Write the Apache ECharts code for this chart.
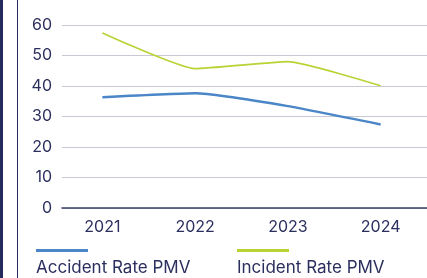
<!DOCTYPE html>
<html style="height: 100%">
<head>
<meta charset="utf-8">
<script type="text/javascript" src="https://cdn.jsdelivr.net/npm/echarts@6/dist/echarts.min.js"></script>
</head>
<body style="height: 100%; margin: 0; background: #fff">
<div id="container" style="width: 427px; height: 278px"></div>
<script type="text/javascript">
var YEARS = ['2021', '2022', '2023', '2024'];
var NAMES = ['Accident Rate PMV', 'Incident Rate PMV'];
var ACCIDENT = [36.3, 37.6, 33.4, 27.4];
var INCIDENT = [57.4, 45.7, 48.0, 40.1];
var COLORS = ['#4a86c8', '#b7d334'];

var NAVY = '#2b2f5e';
var FONT = 'Inter';

var dom = document.getElementById('container');
var myChart = echarts.init(dom, null, {renderer: 'canvas'});

var option = {
    backgroundColor: '#ffffff',
    animation: false,
    textStyle: {fontFamily: FONT},
    grid: [
        {left: 56, right: -21, top: 25, bottom: 70},   // series
        {left: 62, right: -5, top: 25, bottom: 70}     // axes / gridlines
    ],
    xAxis: [{
        gridIndex: 0,
        type: 'category',
        data: YEARS,
        boundaryGap: true,
        axisLine: {show: false},
        axisTick: {show: false},
        axisLabel: {color: NAVY, fontSize: 16, fontFamily: FONT, margin: 11}
    }, {
        gridIndex: 1,
        type: 'value',
        min: 0, max: 1,
        axisLine: {show: true, lineStyle: {color: '#3a3e68', width: 1.5}},
        axisTick: {show: false},
        axisLabel: {show: false},
        splitLine: {show: false}
    }],
    yAxis: [{
        gridIndex: 0,
        type: 'value',
        min: 0, max: 60,
        show: false
    }, {
        gridIndex: 1,
        type: 'value',
        min: 0, max: 60, interval: 10,
        axisLine: {show: false},
        axisTick: {show: false},
        axisLabel: {color: NAVY, fontSize: 16, fontFamily: FONT, margin: 10},
        splitLine: {lineStyle: {color: '#c9c9d6', width: 1}}
    }],
    legend: [{
        data: [NAMES[0]],
        left: 36, top: 249, padding: 0,
        icon: 'rect', itemWidth: 52, itemHeight: 3,
        formatter: function () { return ''; },
        selectedMode: false
    }, {
        data: [NAMES[1]],
        left: 237, top: 249, padding: 0,
        icon: 'rect', itemWidth: 52, itemHeight: 3,
        formatter: function () { return ''; },
        selectedMode: false
    }],
    graphic: [
        {type: 'rect', left: 0, top: 0, shape: {width: 3, height: 278}, style: {fill: '#232a5c'}},
        {type: 'rect', left: 17, top: 0, shape: {width: 1, height: 278}, style: {fill: '#232a5c'}},
        {type: 'text', left: 36, top: 259, style: {text: NAMES[0], fill: NAVY, font: '17px Inter'}},
        {type: 'text', left: 237, top: 259, style: {text: NAMES[1], fill: NAVY, font: '17px Inter'}}
    ],
    series: [{
        name: NAMES[0],
        type: 'line',
        xAxisIndex: 0, yAxisIndex: 0,
        data: ACCIDENT,
        smooth: 0.15,
        showSymbol: false,
        color: COLORS[0],
        lineStyle: {width: 2.5, color: COLORS[0]}
    }, {
        name: NAMES[1],
        type: 'line',
        xAxisIndex: 0, yAxisIndex: 0,
        data: INCIDENT,
        smooth: 0.15,
        showSymbol: false,
        color: COLORS[1],
        lineStyle: {width: 1.6, color: COLORS[1]}
    }]
};
myChart.setOption(option);
</script>
</body>
</html>
